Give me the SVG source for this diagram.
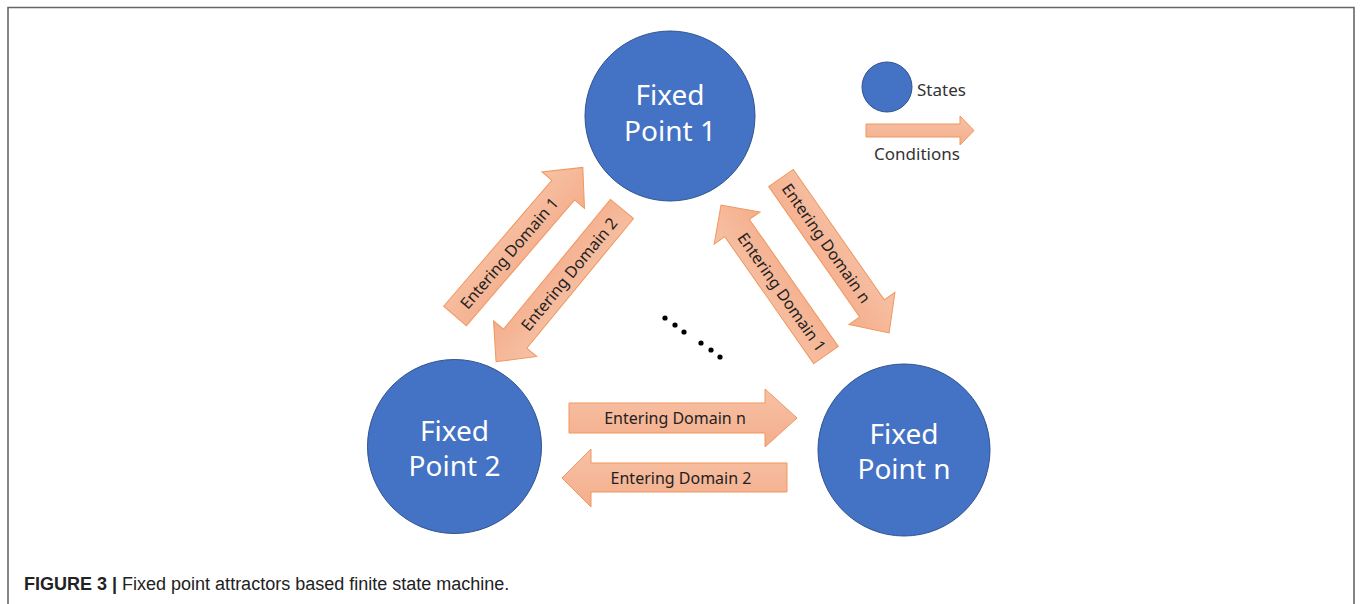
<svg xmlns="http://www.w3.org/2000/svg" width="1360" height="604" viewBox="0 0 1360 604">
  <style>
    .frame { fill: none; stroke: #666; stroke-width: 1.6; }
    .state { fill: #4472C4; stroke: #2F528F; stroke-width: 1; }
    .state-label { font-family: "Noto Sans", "Open Sans", sans-serif; font-size: 28px; fill: #ffffff; text-anchor: middle; }
    .cond { fill: url(#condFill); stroke: #F0975E; stroke-width: 1; }
    .cond-label { font-family: "Noto Sans", "Open Sans", sans-serif; font-size: 16px; fill: #222; text-anchor: middle; dominant-baseline: central; }
    .legend-label { font-family: "Noto Sans", "Open Sans", sans-serif; font-size: 17px; fill: #333; }
    .caption { font-family: "Liberation Sans", Arial, sans-serif; font-size: 18px; fill: #222; }
    .dot { fill: #000; }
  </style>
  <defs>
    <linearGradient id="condFill" x1="0" y1="0" x2="0" y2="1">
      <stop offset="0" stop-color="#F7C1A5"/>
      <stop offset="1" stop-color="#F4AE8C"/>
    </linearGradient>
  </defs>

  <rect width="1360" height="604" fill="#ffffff"/>

  <!-- figure frame, open at the bottom -->
  <path class="frame" d="M8,604 V7.5 H1354 V604"/>

  <!-- transitions between states -->
  <g id="connectors">
    <!-- Fixed Point 2 -> Fixed Point 1 -->
    <g id="c-2-1" transform="translate(455,316) rotate(-49.3)">
      <polygon class="cond" points="0,-15 166,-15 166,-28 196,0 166,28 166,15 0,15"/>
    </g>
    <text class="cond-label" transform="translate(509,253) rotate(-49.3)">Entering Domain 1</text>

    <!-- Fixed Point 1 -> Fixed Point 2 -->
    <g id="c-1-2" transform="translate(622,209) rotate(129.5)">
      <polygon class="cond" points="0,-15 168,-15 168,-28 198,0 168,28 168,15 0,15"/>
    </g>
    <text class="cond-label" transform="translate(569,274) rotate(-50.5)">Entering Domain 2</text>

    <!-- Fixed Point 1 -> Fixed Point n -->
    <g id="c-1-n" transform="translate(781,178) rotate(55.1)">
      <polygon class="cond" points="0,-15 159,-15 159,-28 189,0 159,28 159,15 0,15"/>
    </g>
    <text class="cond-label" transform="translate(826.5,243) rotate(55.1)">Entering Domain n</text>

    <!-- Fixed Point n -> Fixed Point 1 -->
    <g id="c-n-1" transform="translate(826,355) rotate(-125)">
      <polygon class="cond" points="0,-15 155,-15 155,-28 183,0 155,28 155,15 0,15"/>
    </g>
    <text class="cond-label" transform="translate(782,292) rotate(55)">Entering Domain 1</text>

    <!-- Fixed Point 2 -> Fixed Point n -->
    <polygon id="c-2-n" class="cond" points="569,403 765,403 765,389 797,418 765,447 765,433 569,433"/>
    <text class="cond-label" x="675" y="418">Entering Domain n</text>

    <!-- Fixed Point n -> Fixed Point 2 -->
    <polygon id="c-n-2" class="cond" points="787,463 591,463 591,449 562,478 591,507 591,492 787,492"/>
    <text class="cond-label" x="681" y="477.5">Entering Domain 2</text>

    <!-- further states omitted -->
    <g id="ellipsis">
      <circle class="dot" cx="665" cy="318" r="2.6"/>
      <circle class="dot" cx="675" cy="325" r="2.6"/>
      <circle class="dot" cx="684" cy="332" r="2.6"/>
      <circle class="dot" cx="701" cy="343" r="2.6"/>
      <circle class="dot" cx="711" cy="350" r="2.6"/>
      <circle class="dot" cx="720" cy="357" r="2.6"/>
    </g>
  </g>

  <!-- states -->
  <g id="fixed-point-1">
    <circle class="state" cx="670" cy="116" r="85"/>
    <text class="state-label" x="670" y="105">Fixed</text>
    <text class="state-label" x="670" y="141">Point 1</text>
  </g>

  <g id="fixed-point-2">
    <circle class="state" cx="454.5" cy="446.5" r="87"/>
    <text class="state-label" x="454.5" y="441">Fixed</text>
    <text class="state-label" x="454.5" y="476">Point 2</text>
  </g>

  <g id="fixed-point-n">
    <circle class="state" cx="904" cy="450" r="86"/>
    <text class="state-label" x="904" y="444">Fixed</text>
    <text class="state-label" x="904" y="479">Point n</text>
  </g>

  <!-- legend -->
  <g id="legend">
    <circle class="state" cx="887" cy="87" r="25"/>
    <text class="legend-label" x="917" y="96">States</text>
    <polygon class="cond" points="866,124 960,124 960,116 974,130.5 960,145 960,137 866,137"/>
    <text class="legend-label" x="874" y="160">Conditions</text>
  </g>

  <!-- caption -->
  <text class="caption" x="24" y="590"><tspan font-weight="bold">FIGURE 3 |</tspan> Fixed point attractors based finite state machine.</text>
</svg>
